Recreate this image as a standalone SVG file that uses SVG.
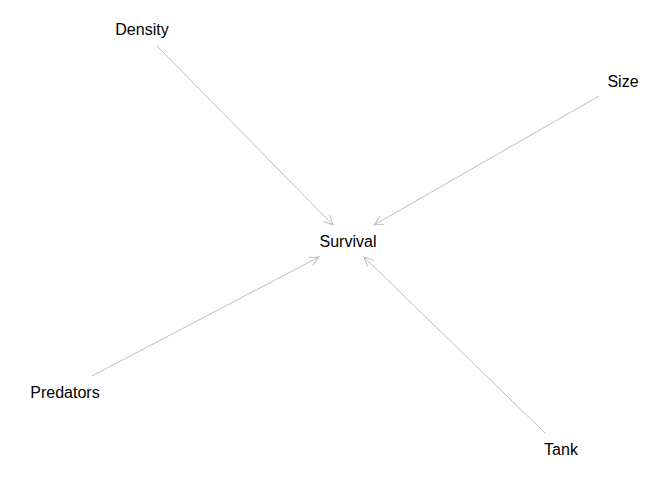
<svg xmlns="http://www.w3.org/2000/svg" width="672" height="480" viewBox="0 0 672 480">
<defs>
<marker id="ah" markerWidth="12" markerHeight="12" refX="10" refY="5" orient="auto" markerUnits="userSpaceOnUse">
<path d="M0.5,0.5 L10,5 L0.5,9.5" fill="none" stroke="#bebebe" stroke-width="1"/>
</marker>
<style>
.e{stroke:#bebebe;stroke-width:1;fill:none;marker-end:url(#ah)}
.t{font-family:"Liberation Sans",Arial,sans-serif;font-size:16px;fill:#000;text-anchor:middle}
</style>
</defs>
<rect width="672" height="480" fill="#fff"/>
<g id="edges">
<line class="e" x1="157" y1="46" x2="333" y2="225"/>
<line class="e" x1="599" y1="96" x2="374" y2="225"/>
<line class="e" x1="92" y1="376" x2="319" y2="257"/>
<line class="e" x1="545" y1="433" x2="364" y2="257"/>
</g>
<g id="Density"><text class="t" x="142" y="35">Density</text></g>
<g id="Size"><text class="t" x="623" y="87">Size</text></g>
<g id="Survival"><text class="t" x="348" y="247">Survival</text></g>
<g id="Predators"><text class="t" x="65" y="398">Predators</text></g>
<g id="Tank"><text class="t" x="561" y="455">Tank</text></g>
</svg>
